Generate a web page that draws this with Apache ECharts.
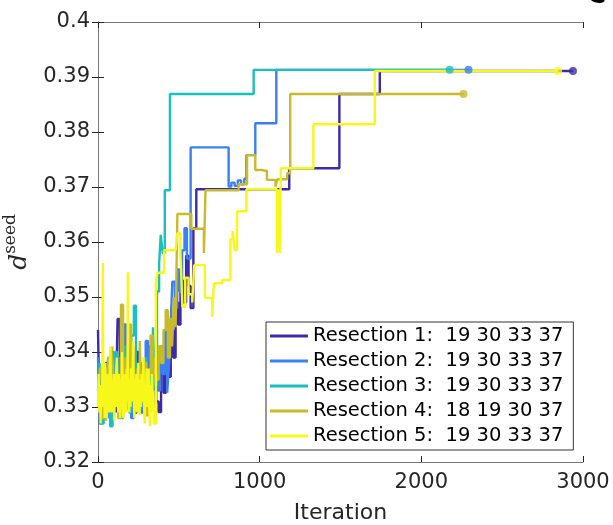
<!DOCTYPE html>
<html>
<head>
<meta charset="utf-8">
<script src="https://cdn.jsdelivr.net/npm/echarts@6/dist/echarts.min.js"></script>
<style>
    html, body { margin: 0; padding: 0; background: #fff; }
    #chart { width: 613px; height: 525px; }
</style>
</head>
<body>
<div id="chart"></div>
<script>
// [iteration, d_seed]
var res1 = [[0,0.344],[8,0.331],[20,0.336],[35,0.329],[50,0.338],[65,0.331],[80,0.34],[95,0.333],[110,0.329],[121,0.346],[135,0.332],[150,0.338],[165,0.33],[180,0.343],[195,0.331],[210,0.336],[225,0.329],[240,0.34],[255,0.332],[270,0.337],[285,0.33],[300,0.335],[315,0.341],[330,0.333],[345,0.338],[360,0.331],[375,0.3291],[390,0.336],[406,0.3326],[420,0.341],[437,0.3355],[450,0.344],[465,0.339],[480,0.349],[495,0.345],[510,0.353],[525,0.349],[545,0.3575],[560,0.352],[573,0.348],[590,0.3625],[608,0.3696],[1183,0.3734],[1493,0.3869],[1743,0.3911],[2938,0.3911]]
var res2 = [[0,0.339],[10,0.327],[25,0.334],[40,0.33],[55,0.337],[70,0.328],[85,0.335],[100,0.331],[115,0.339],[130,0.329],[145,0.334],[160,0.345],[175,0.331],[190,0.337],[205,0.328],[220,0.335],[235,0.33],[250,0.338],[265,0.329],[280,0.334],[295,0.342],[310,0.331],[325,0.336],[340,0.33],[355,0.338],[370,0.333],[385,0.341],[400,0.336],[415,0.344],[428,0.3326],[440,0.338],[452,0.347],[460,0.3528],[475,0.348],[490,0.355],[505,0.351],[520,0.3585],[535,0.3625],[550,0.357],[573,0.3772],[808,0.3701],[825,0.3708],[845,0.3702],[865,0.3712],[885,0.3705],[905,0.3715],[918,0.3758],[973,0.3816],[1103,0.3913],[2292,0.3913]]
var res3 = [[0,0.333],[10,0.338],[22,0.327],[35,0.334],[48,0.329],[60,0.336],[75,0.3265],[90,0.333],[105,0.34],[118,0.33],[130,0.336],[142,0.328],[155,0.341],[168,0.332],[180,0.337],[192,0.329],[205,0.343],[222,0.3484],[235,0.331],[248,0.338],[260,0.329],[272,0.335],[285,0.33],[298,0.339],[310,0.332],[325,0.337],[340,0.3445],[352,0.334],[365,0.351],[378,0.356],[388,0.3613],[400,0.358],[413,0.3694],[445,0.3869],[963,0.3913],[2175,0.3913]]
var res4 = [[0,0.331],[12,0.337],[25,0.328],[38,0.335],[50,0.3275],[62,0.339],[75,0.332],[88,0.341],[100,0.33],[112,0.336],[125,0.328],[142,0.3486],[155,0.333],[168,0.339],[180,0.3295],[192,0.345],[205,0.334],[218,0.341],[230,0.33],[245,0.337],[258,0.342],[270,0.331],[285,0.338],[298,0.3285],[312,0.336],[325,0.343],[338,0.333],[350,0.339],[362,0.335],[375,0.341],[390,0.338],[405,0.344],[419,0.3476],[432,0.339],[445,0.346],[458,0.341],[470,0.35],[480,0.3445],[491,0.3651],[577,0.3624],[655,0.358],[665,0.3694],[870,0.3705],[922,0.3758],[973,0.3731],[1010,0.3729],[1045,0.3713],[1098,0.3701],[1110,0.3714],[1170,0.3725],[1189,0.3869],[2261,0.3869]]
var res5 = [[0,0.33],[4,0.336],[8,0.329],[12,0.334],[16,0.327],[20,0.333],[24,0.331],[27,0.337],[30,0.3562],[33,0.33],[37,0.335],[41,0.328],[45,0.338],[49,0.332],[53,0.328],[57,0.336],[61,0.33],[65,0.334],[69,0.329],[73,0.337],[77,0.341],[81,0.331],[85,0.329],[89,0.335],[93,0.33],[97,0.336],[101,0.3275],[105,0.334],[109,0.33],[113,0.337],[117,0.339],[121,0.331],[125,0.329],[129,0.336],[133,0.332],[137,0.328],[141,0.335],[145,0.331],[149,0.34],[153,0.33],[157,0.328],[161,0.336],[165,0.33],[169,0.334],[173,0.329],[177,0.337],[181,0.331],[185,0.3545],[189,0.332],[193,0.329],[197,0.335],[201,0.33],[205,0.337],[209,0.331],[213,0.334],[217,0.342],[221,0.332],[225,0.328],[229,0.335],[233,0.33],[237,0.336],[241,0.329],[245,0.334],[249,0.338],[253,0.331],[257,0.3285],[261,0.335],[265,0.33],[269,0.336],[273,0.331],[277,0.334],[281,0.339],[285,0.33],[289,0.327],[293,0.334],[297,0.331],[301,0.337],[305,0.33],[309,0.335],[313,0.337],[317,0.33],[321,0.3265],[325,0.334],[329,0.331],[333,0.336],[337,0.329],[341,0.333],[345,0.327],[358,0.3525],[368,0.3544],[409,0.3585],[480,0.3585],[491,0.3616],[510,0.358],[522,0.3482],[540,0.3535],[560,0.3505],[583,0.349],[595,0.3558],[661,0.3498],[706,0.3464],[717,0.3525],[768,0.3531],[819,0.3605],[833,0.362],[845,0.3585],[860,0.3656],[918,0.3696],[1107,0.358],[1118,0.3696],[1124,0.358],[1131,0.3734],[1332,0.3814],[1712,0.3911],[2846,0.3911]]

var names = ['Resection 1:  19 30 33 37', 'Resection 2:  19 30 33 37', 'Resection 3:  19 30 33 37', 'Resection 4:  18 19 30 37', 'Resection 5:  19 30 33 37']
var colors = ['#3d2aa8', '#3a80f2', '#1bbfbd', '#c8ba2c', '#f7f71a']
var xTicks = [0, 1000, 2000, 3000]
var yMin = 0.32, yMax = 0.4, yStep = 0.01

var chart = echarts.init(document.getElementById('chart'))
var allData = [res1, res2, res3, res4, res5]
var seriesData = []

// step lines
allData.forEach(function (d, i) {
    seriesData.push({
        name: names[i],
        type: 'line',
        step: 'end',
        data: d,
        symbol: 'none',
        lineStyle: { width: 2.4, color: colors[i] },
        itemStyle: { color: colors[i] },
        animation: false,
        z: 2 + i,
    })
})
// dot at the end of each run
allData.forEach(function (d, i) {
    seriesData.push({
        name: 'end' + i,
        type: 'scatter',
        data: [d[d.length - 1]],
        symbol: 'circle',
        symbolSize: 8,
        itemStyle: { color: colors[i] },
        animation: false,
        z: 10,
    })
})

var axisCol = '#262626'
var boxCol = '#777'
var option = {
    animation: false,
    textStyle: { fontFamily: 'DejaVu Sans' },
    grid: { left: 98, right: 30, top: 22, bottom: 63, containLabel: false, outerBoundsMode: 'none' },
    legend: {
        data: names,
        orient: 'vertical',
        left: 266,
        top: 322,
        icon: 'rect',
        itemWidth: 38,
        itemHeight: 3,
        itemGap: 5,
        padding: [4, 10, 4, 4],
        borderColor: '#333',
        borderWidth: 1,
        backgroundColor: '#fff',
        textStyle: { fontSize: 19.5, color: '#000', lineHeight: 20, fontFamily: 'DejaVu Sans' },
    },
    xAxis: [
        {
            type: 'value',
            min: xTicks[0],
            max: xTicks[xTicks.length - 1],
            interval: 1000,
            name: 'Iteration',
            nameLocation: 'middle',
            nameGap: 40,
            nameTextStyle: { fontSize: 22, color: axisCol },
            axisLine: { show: true, lineStyle: { color: boxCol, width: 1 } },
            axisTick: { show: true, inside: true, length: 6, lineStyle: { color: axisCol } },
            axisLabel: { fontSize: 21, color: axisCol, margin: 10, formatter: function (v) { return String(v) } },
            splitLine: { show: false },
        },
        {
            // top edge of the box
            type: 'value',
            position: 'top',
            min: xTicks[0],
            max: xTicks[xTicks.length - 1],
            interval: 1000,
            axisLine: { show: true, lineStyle: { color: boxCol, width: 1 } },
            axisTick: { show: true, inside: true, length: 6, lineStyle: { color: axisCol } },
            axisLabel: { show: false },
            splitLine: { show: false },
        },
    ],
    yAxis: [
        {
            type: 'value',
            min: yMin,
            max: yMax,
            interval: yStep,
            name: '{d|d}{s|seed}',
            nameLocation: 'middle',
            nameGap: 62,
            nameRotate: 90,
            nameTextStyle: {
                rich: {
                    d: { fontFamily: 'DejaVu Serif', fontStyle: 'italic', fontSize: 25, color: axisCol, verticalAlign: 'bottom', lineHeight: 30 },
                    s: { fontFamily: 'DejaVu Serif', fontSize: 17, color: axisCol, verticalAlign: 'top', lineHeight: 30 },
                },
            },
            axisLine: { show: true, lineStyle: { color: boxCol, width: 1 } },
            axisTick: { show: true, inside: true, length: 6, lineStyle: { color: axisCol } },
            axisLabel: {
                fontSize: 21,
                color: axisCol,
                margin: 8,
                formatter: function (v) { return String(+v.toFixed(2)) },
            },
            splitLine: { show: false },
        },
        {
            // right edge of the box
            type: 'value',
            position: 'right',
            min: yMin,
            max: yMax,
            interval: yStep,
            axisLine: { show: true, lineStyle: { color: boxCol, width: 1 } },
            axisTick: { show: true, inside: true, length: 6, lineStyle: { color: axisCol } },
            axisLabel: { show: false },
            splitLine: { show: false },
        },
    ],
    // panel letter, cut off at the top of the figure
    graphic: [
        {
            type: 'text',
            x: 587,
            y: -17,
            style: { text: 'C', font: 'bold 26px "DejaVu Sans"', fill: '#000' },
        },
    ],
    series: seriesData,
}
chart.setOption(option)
window.addEventListener('resize', chart.resize)
</script>
</body>
</html>
